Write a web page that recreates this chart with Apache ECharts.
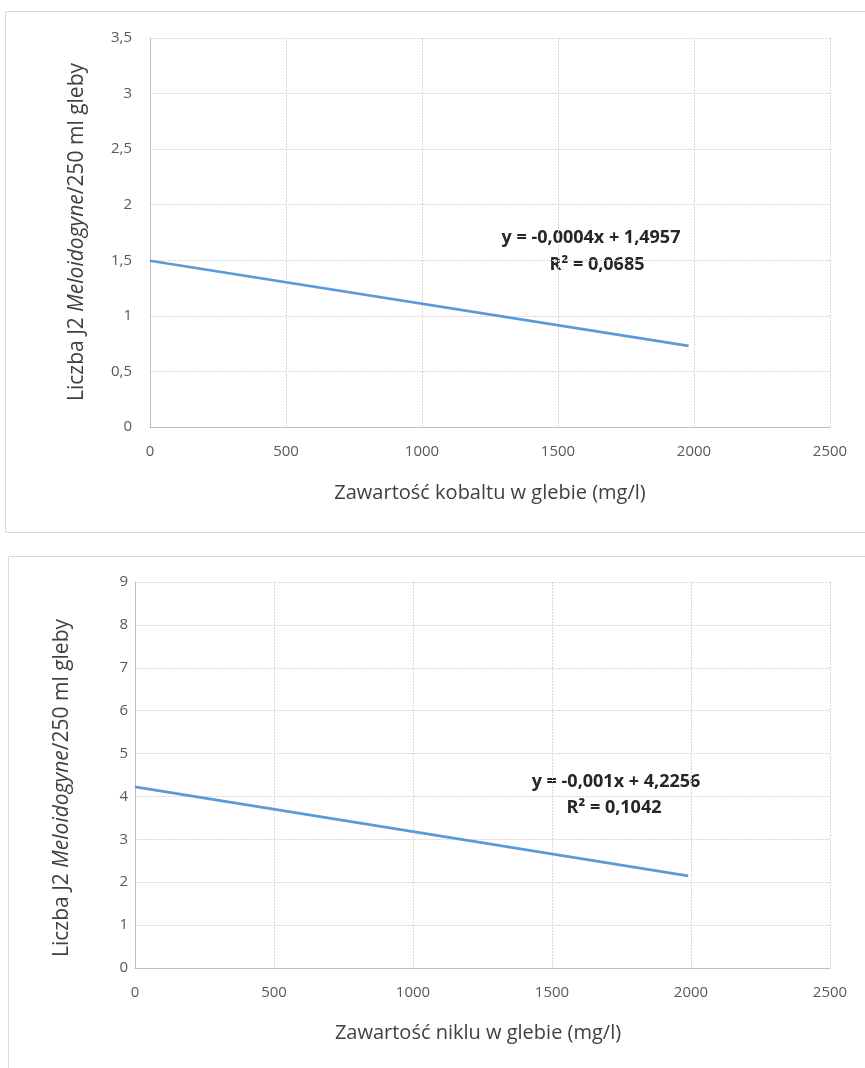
<!DOCTYPE html>
<html>
<head>
<meta charset="utf-8">
<script src="https://cdn.jsdelivr.net/npm/echarts@6/dist/echarts.min.js"></script>
<style>
html,body{margin:0;padding:0;background:#fff;}
#c{width:865px;height:1068px;}
</style>
</head>
<body>
<div id="c"></div>
<script>
// Chart 1: cobalt
const xTicks = [0, 500, 1000, 1500, 2000, 2500];
const cobaltTrend = [[0, 1.4957], [1980, 0.73]];
const cobaltYTicks = [0, 0.5, 1, 1.5, 2, 2.5, 3, 3.5];
const cobaltEq = 'y = -0,0004x + 1,4957';
const cobaltR2 = 'R² = 0,0685';
const cobaltXTitle = 'Zawartość kobaltu w glebie (mg/l)';
// Chart 2: nickel
const nickelTrend = [[0, 4.2256], [1990, 2.15]];
const nickelYTicks = [0, 1, 2, 3, 4, 5, 6, 7, 8, 9];
const nickelEq = 'y = -0,001x + 4,2256';
const nickelR2 = 'R² = 0,1042';
const nickelXTitle = 'Zawartość niklu w glebie (mg/l)';

const FONT = '"Open Sans", sans-serif';
const TICK_COLOR = '#595959';
const GRID_COLOR = '#d9d9d9';

function xAxis(gridIndex) {
  return {
    type: 'value', gridIndex, min: 0, max: 2500, interval: 500,
    axisLine: {show: true, lineStyle: {color: '#bfbfbf', width: 1}},
    axisTick: {show: false},
    splitLine: {show: true, lineStyle: {color: GRID_COLOR, type: [2, 1]}},
    axisLabel: {color: TICK_COLOR, fontFamily: FONT, fontSize: 15, margin: 17,
      formatter: v => String(v)}
  };
}
function yAxis(gridIndex, max, interval, margin) {
  return {
    type: 'value', gridIndex, min: 0, max, interval,
    axisLine: {show: true, lineStyle: {color: '#bfbfbf', width: 1}},
    axisTick: {show: false},
    splitLine: {show: true, lineStyle: {color: GRID_COLOR, type: [2, 1]}},
    axisLabel: {color: TICK_COLOR, fontFamily: FONT, fontSize: 15, margin,
      formatter: v => String(v).replace('.', ',')}
  };
}

function yTitle(x, y) {
  return {
    type: 'text', x, y, rotation: Math.PI / 2,
    style: {
      text: '{a|Liczba J2 }{b|Meloidogyne}{a|/250 ml gleby}',
      align: 'center', verticalAlign: 'middle',
      rich: {
        a: {fontFamily: FONT, fontSize: 21, fill: '#404040'},
        b: {fontFamily: FONT, fontSize: 21, fill: '#404040', fontStyle: 'italic'}
      }
    }
  };
}
function plainText(x, y, text, opts) {
  return {
    type: 'text', x, y,
    style: Object.assign({text, align: 'center', verticalAlign: 'middle',
      fontFamily: FONT, fontSize: 20, fill: '#404040'}, opts || {})
  };
}
const EQ = {fontWeight: 'bold', fontSize: 18, fill: '#262626'};

const chart = echarts.init(document.getElementById('c'));
chart.setOption({
  animation: false,
  backgroundColor: '#fff',
  grid: [
    {left: 150, top: 38, width: 680, height: 389},
    {left: 135, top: 582, width: 695, height: 386}
  ],
  xAxis: [xAxis(0), xAxis(1)],
  yAxis: [yAxis(0, 3.5, 0.5, 18), yAxis(1, 9, 1, 7)],
  series: [
    {type: 'line', xAxisIndex: 0, yAxisIndex: 0, data: cobaltTrend, symbol: 'none',
      lineStyle: {color: '#5b9bd5', width: 2.75}},
    {type: 'line', xAxisIndex: 1, yAxisIndex: 1, data: nickelTrend, symbol: 'none',
      lineStyle: {color: '#5b9bd5', width: 2.75}}
  ],
  graphic: [
    {type: 'rect', shape: {x: 5.5, y: 11.5, width: 880, height: 521}, style: {fill: 'none', stroke: '#d9d9d9', lineWidth: 1}, z: -1},
    {type: 'rect', shape: {x: 8.5, y: 556.5, width: 880, height: 530}, style: {fill: 'none', stroke: '#d9d9d9', lineWidth: 1}, z: -1},
    yTitle(77, 232),
    yTitle(62, 788),
    plainText(490, 493, cobaltXTitle),
    plainText(478, 1033, nickelXTitle),
    plainText(591, 238, cobaltEq, EQ),
    plainText(597, 265, cobaltR2, EQ),
    plainText(616, 782, nickelEq, EQ),
    plainText(614, 808, nickelR2, EQ)
  ]
});
</script>
</body>
</html>
